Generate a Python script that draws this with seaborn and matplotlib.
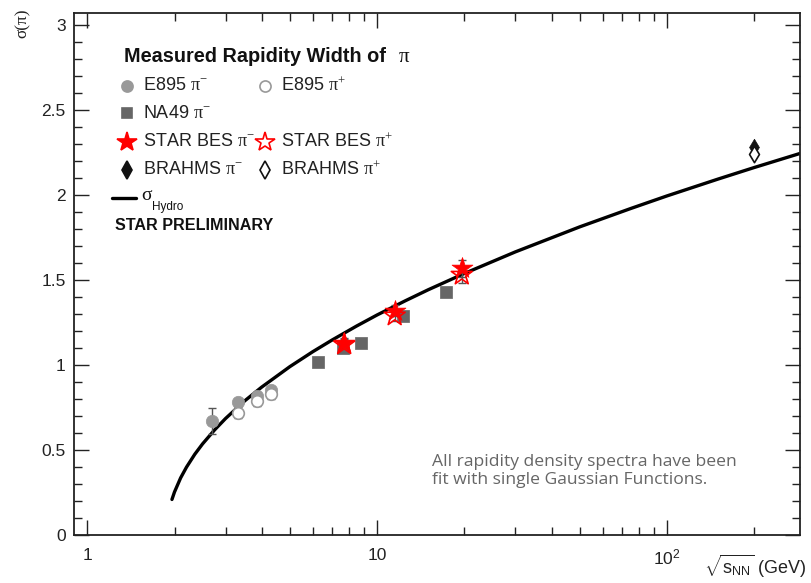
import numpy as np
import pandas as pd
import matplotlib
matplotlib.use("Agg")
import matplotlib.pyplot as plt
from matplotlib.lines import Line2D
from matplotlib.ticker import FixedLocator, NullFormatter, MultipleLocator
import seaborn as sns

# ---- data -------------------------------------------------------------
e895_energy = [2.7, 3.32, 3.84, 4.29]
e895_pim = [0.67, 0.78, 0.82, 0.85]
e895_pim_err = [0.075, 0.02, 0.02, 0.02]
e895p_energy = [3.32, 3.84, 4.29]
e895_pip = [0.72, 0.79, 0.83]
e895_pip_err = [0.03, 0.03, 0.03]

na49_energy = [6.27, 7.62, 8.77, 12.3, 17.3]
na49_pim = [1.02, 1.10, 1.13, 1.29, 1.43]

star_energy = [7.7, 11.5, 19.6]
star_pim = [1.13, 1.32, 1.57]
star_pim_err = [0.03, 0.03, 0.05]
star_pip = [1.12, 1.29, 1.53]
star_pip_err = [0.03, 0.03, 0.05]

brahms_energy = [200.0]
brahms_pim = [2.28]
brahms_pip = [2.24]

hydro_energy = [1.96, 2.0, 2.1, 2.2, 2.35, 2.5, 2.75, 3.0, 3.5, 4.0, 5.0, 6.0,
                7.0, 8.5, 10.0, 12.5, 15.0, 20.0, 30.0, 50.0, 75.0, 100.0,
                150.0, 200.0, 288.0]
hydro_sigma = [0.209, 0.253, 0.336, 0.399, 0.475, 0.536, 0.618, 0.685, 0.790,
               0.870, 0.990, 1.078, 1.147, 1.229, 1.294, 1.377, 1.442, 1.538,
               1.665, 1.812, 1.920, 1.994, 2.093, 2.161, 2.244]

x_ticks = [1, 10, 100]
x_ticklabels = ["1", "10", r"$\mathregular{10^{2}}$"]
y_ticks = [0, 0.5, 1, 1.5, 2, 2.5, 3]
y_ticklabels = ["0", "0.5", "1", "1.5", "2", "2.5", "3"]

# ---- style ------------------------------------------------------------
sns.set_theme(style="ticks")
plt.rcParams["font.family"] = ["Liberation Sans", "DejaVu Sans"]
plt.rcParams["mathtext.fontset"] = "custom"
plt.rcParams["mathtext.rm"] = "Liberation Serif"
plt.rcParams["mathtext.it"] = "Liberation Serif:italic"
plt.rcParams["mathtext.bf"] = "Liberation Serif:bold"
plt.rcParams["mathtext.sf"] = "Liberation Sans"

W, H = 811, 583
fig = plt.figure(figsize=(W / 100, H / 100), dpi=100)
L, R, T, B = 74, 800, 13, 535
ax = fig.add_axes([L / W, 1 - B / H, (R - L) / W, (B - T) / H])


def ax_pt(px, py):
    return ((px - L) / (R - L), (B - py) / (B - T))


# ---- hydro curve ------------------------------------------------------
hydro = pd.DataFrame({"e": hydro_energy, "s": hydro_sigma})
sns.lineplot(data=hydro, x="e", y="s", ax=ax, color="black", lw=2.4,
             zorder=2, sort=True, estimator=None)

# ---- error bars -------------------------------------------------------
eb = dict(fmt="none", elinewidth=1.0, capsize=3, capthick=1.0, zorder=3)
ax.errorbar(e895_energy, e895_pim, yerr=e895_pim_err, ecolor="#555555", **eb)
ax.errorbar(e895p_energy, e895_pip, yerr=e895_pip_err, ecolor="#555555", **eb)
ax.errorbar(star_energy, star_pim, yerr=star_pim_err, ecolor="#555555", **eb)
ax.errorbar(star_energy, star_pip, yerr=star_pip_err, ecolor="#555555", **eb)

# ---- data points ------------------------------------------------------
grey_fill = "#999999"
dark_fill = "#666666"
sns.scatterplot(x=e895_energy, y=e895_pim, ax=ax, marker="o", s=80,
                color=grey_fill, edgecolor=grey_fill, linewidth=0.5, zorder=4)
sns.scatterplot(x=e895p_energy, y=e895_pip, ax=ax, marker="o", s=70,
                facecolor="white", edgecolor=grey_fill, linewidth=1.2, zorder=5)
sns.scatterplot(x=na49_energy, y=na49_pim, ax=ax, marker="s", s=70,
                color=dark_fill, edgecolor=dark_fill, linewidth=0.5, zorder=4)
sns.scatterplot(x=star_energy, y=star_pim, ax=ax, marker="*", s=250,
                color="red", edgecolor="red", linewidth=0.5, zorder=6)
sns.scatterplot(x=star_energy, y=star_pip, ax=ax, marker="*", s=250,
                facecolor="none", edgecolor="red", linewidth=1.2, zorder=7)
sns.scatterplot(x=brahms_energy, y=brahms_pim, ax=ax, marker="d", s=70,
                color="#111111", edgecolor="#111111", linewidth=0.5, zorder=6)
sns.scatterplot(x=brahms_energy, y=brahms_pip, ax=ax, marker="d", s=70,
                facecolor="white", edgecolor="#111111", linewidth=1.2, zorder=7)

# ---- axes -------------------------------------------------------------
ax.set_xscale("log")
ax.set_xlim(0.90, 288)
ax.set_ylim(0, 3.07)
ax.set_xlabel("")
ax.set_ylabel("")

ax.xaxis.set_major_locator(FixedLocator(x_ticks))
ax.set_xticklabels(x_ticklabels)
minor_x = [m * d for d in (1, 10, 100) for m in range(2, 10) if m * d < 288]
ax.xaxis.set_minor_locator(FixedLocator(minor_x))
ax.xaxis.set_minor_formatter(NullFormatter())
ax.set_yticks(y_ticks)
ax.set_yticklabels(y_ticklabels)
ax.yaxis.set_minor_locator(MultipleLocator(0.1))

ax.tick_params(which="both", direction="in", top=True, right=True,
               color="#222222", width=1.0, labelsize=12.5, labelcolor="#222222")
ax.tick_params(which="major", length=11, pad=6)
ax.tick_params(which="minor", length=6)
ax.tick_params(axis="x", which="major", pad=9)
for sp in ax.spines.values():
    sp.set_linewidth(1.3)
    sp.set_color("#222222")

# axis titles
fig.text(23 / W, 1 - 9 / H, r"σ(π)", rotation=90, ha="center", va="top",
         fontsize=12.5, family="Liberation Serif", color="#222222")
fig.text(806 / W, 1 - 566 / H, r"$\sqrt{\mathsf{s}_{\mathsf{NN}}}$ (GeV)",
         ha="right", va="center", fontsize=13, color="#222222")

# ---- legend block -----------------------------------------------------
ax.text(*ax_pt(124, 57), "Measured Rapidity Width of", transform=ax.transAxes,
        fontsize=14.3, fontweight="bold", va="center", ha="left",
        color="#111111")
ax.text(*ax_pt(398, 57), r"$\mathrm{\pi}$", transform=ax.transAxes,
        fontsize=15, va="center", ha="left", color="#111111")

entries = [
    (127, 86, "o", grey_fill, grey_fill, r"E895 $\mathrm{\pi}^{-}$", 8),
    (265, 86, "o", "white", grey_fill, r"E895 $\mathrm{\pi}^{+}$", 8),
    (127, 113, "s", dark_fill, dark_fill, r"NA49 $\mathrm{\pi}^{-}$", 7.5),
    (127, 142, "*", "red", "red", r"STAR BES $\mathrm{\pi}^{-}$", 15),
    (265, 142, "*", "white", "red", r"STAR BES $\mathrm{\pi}^{+}$", 15),
    (127, 170, "d", "#111111", "#111111", r"BRAHMS $\mathrm{\pi}^{-}$", 9),
    (265, 170, "d", "white", "#111111", r"BRAHMS $\mathrm{\pi}^{+}$", 9),
]
for px, py, mk, fc, ec, label, ms in entries:
    x0, y0 = ax_pt(px, py)
    ax.add_line(Line2D([x0], [y0], marker=mk, markersize=ms,
                       markerfacecolor=fc, markeredgecolor=ec,
                       markeredgewidth=1.2, transform=ax.transAxes,
                       clip_on=False))
    ax.text(*ax_pt(px + 16, py), label, transform=ax.transAxes,
            fontsize=13, va="center", ha="left", color="#222222")

xa, ya = ax_pt(112, 198)
xb, _ = ax_pt(136, 198)
ax.add_line(Line2D([xa, xb], [ya, ya], color="black", lw=2.4,
                   transform=ax.transAxes))
ax.text(*ax_pt(141, 196), r"$\mathrm{\sigma}$", transform=ax.transAxes,
        fontsize=14, va="center", ha="left", color="#111111")
ax.text(*ax_pt(152, 207), "Hydro", transform=ax.transAxes,
        fontsize=8.5, va="center", ha="left", color="#111111")
ax.text(*ax_pt(115, 225), "STAR PRELIMINARY", transform=ax.transAxes,
        fontsize=11.6, fontweight="bold", va="center", ha="left",
        color="#111111")

# ---- note -------------------------------------------------------------
ax.text(*ax_pt(432, 471), "All rapidity density spectra have been\n"
        "fit with single Gaussian Functions.", transform=ax.transAxes,
        fontsize=12.6, color="#666666", va="center", ha="left",
        linespacing=1.2, family=["Open Sans", "DejaVu Sans"])

fig.savefig("out.png", dpi=100)
